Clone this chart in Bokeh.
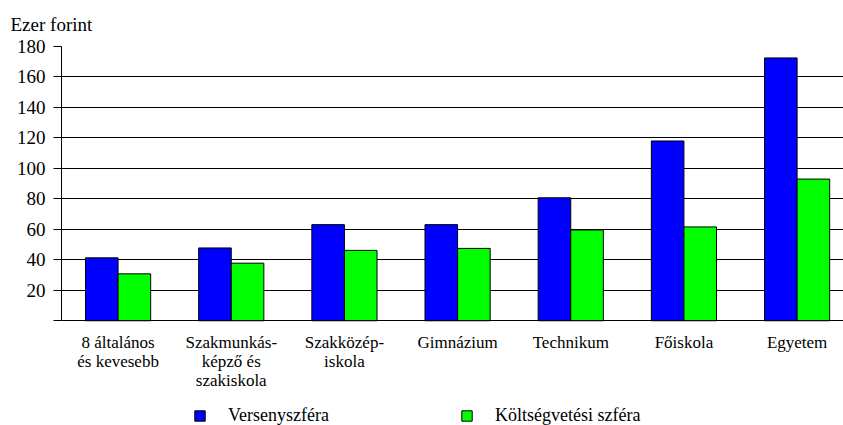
from bokeh.plotting import figure
from bokeh.models import Range1d, FixedTicker, Legend, LegendItem, Title, ColumnDataSource
from bokeh.embed import file_html
from bokeh.resources import INLINE

categories = ["8 általános\nés kevesebb", "Szakmunkás-\nképző és\nszakiskola", "Szakközép-\niskola",
              "Gimnázium", "Technikum", "Főiskola", "Egyetem"]
verseny = [41.3, 47.8, 63.1, 63.1, 80.7, 118, 172.5]
koltseg = [30.8, 37.8, 46.2, 47.5, 59.6, 61.6, 93]
series_names = ["Versenyszféra", "Költségvetési szféra"]
y_ticks = [0, 20, 40, 60, 80, 100, 120, 140, 160, 180]

FONT = "Liberation Serif"

idx = list(range(len(categories)))
src = ColumnDataSource(dict(
    xb=[i - 0.144 for i in idx], xg=[i + 0.144 for i in idx], v=verseny, k=koltseg))

# frame spans 45..425 px; 180 units = 275 px, so the range reaches below 0 to leave room for labels/legend
p = figure(width=843, height=425, output_backend="svg", toolbar_location=None,
           x_range=Range1d(-0.5, 6.41), y_range=Range1d(-68.73, 180),
           min_border_left=61, min_border_right=0, min_border_top=45, min_border_bottom=0)
p.outline_line_color = None
p.background_fill_color = "white"

rb = p.vbar(x="xb", top="v", width=0.288, source=src, fill_color="#0000FF", line_color="black", line_width=1)
rg = p.vbar(x="xg", top="k", width=0.288, source=src, fill_color="#00FF00", line_color="black", line_width=1)

# x axis drawn at value 0
p.xaxis.fixed_location = 0
p.xaxis.ticker = FixedTicker(ticks=idx)
p.xaxis.major_label_overrides = {i: c for i, c in enumerate(categories)}
p.xaxis.major_tick_line_color = None
p.xaxis.minor_tick_line_color = None
p.xaxis.axis_line_color = "black"
p.xaxis.major_label_text_font = FONT
p.xaxis.major_label_text_font_size = "17px"
p.xaxis.major_label_text_line_height = 1.0
p.xaxis.major_label_text_color = "black"
p.xaxis.major_label_standoff = 6

p.yaxis.ticker = FixedTicker(ticks=y_ticks)
p.yaxis.bounds = (0, 180)
p.yaxis.major_label_overrides = {0: ""}
p.yaxis.major_tick_out = 8
p.yaxis.major_tick_in = 0
p.yaxis.minor_tick_line_color = None
p.yaxis.axis_line_color = "black"
p.yaxis.major_tick_line_color = "black"
p.yaxis.major_label_text_font = FONT
p.yaxis.major_label_text_font_size = "19px"
p.yaxis.major_label_text_color = "black"
p.yaxis.major_label_standoff = 8

p.xgrid.grid_line_color = None
p.ygrid.ticker = FixedTicker(ticks=y_ticks[1:])
p.ygrid.grid_line_color = "black"
p.ygrid.grid_line_width = 1

t = Title(text="Ezer forint", align="left", text_font=FONT, text_font_size="19px",
          text_font_style="normal", text_color="black", offset=-51, standoff=23)
p.add_layout(t, "above")

legend = Legend(items=[LegendItem(label=series_names[0], renderers=[rb]),
                       LegendItem(label=series_names[1], renderers=[rg])],
                orientation="horizontal", location=(132, -1),
                glyph_width=13, glyph_height=13, label_standoff=22, label_width=200, spacing=32,
                padding=0, margin=0, border_line_color=None, background_fill_alpha=0,
                label_text_font=FONT, label_text_font_size="18px", label_text_color="black")
p.add_layout(legend, "center")

open("out.html", "w").write(file_html(p, INLINE))
